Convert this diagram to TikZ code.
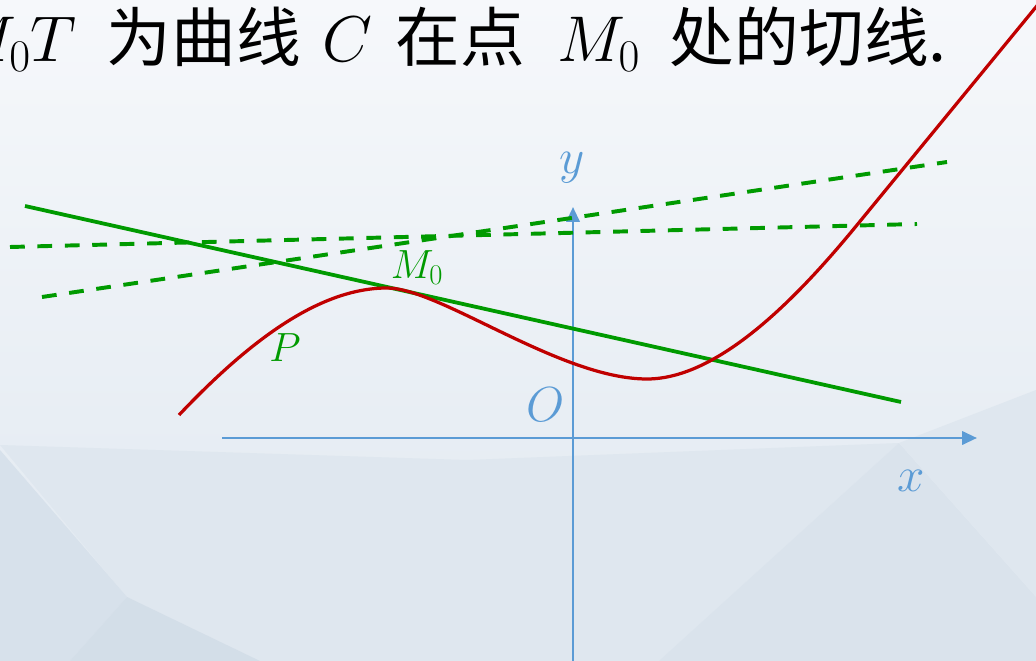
\RequirePackage{fix-cm}
\documentclass[tikz,border=0pt]{standalone}
\usepackage{fontspec}
\newfontfamily\cjk{Noto Sans CJK SC}
\usepackage{tikz}
\usetikzlibrary{arrows.meta}
\definecolor{qxBlue}{HTML}{5B9BD5}
\definecolor{qxGreen}{HTML}{009A00}
\definecolor{qxRed}{HTML}{C00000}
\definecolor{qxBgTop}{HTML}{F6F8FB}
\definecolor{qxBgBot}{HTML}{E0E8F0}
\definecolor{qxFacetA}{HTML}{D7E1EB}
\definecolor{qxFacetB}{HTML}{D3DEE8}
\definecolor{qxFacetC}{HTML}{DFE7EF}
\definecolor{qxFacetD}{HTML}{DAE3EC}

\begin{document}
\begin{tikzpicture}[x=0.025cm, y=-0.025cm,
  axis/.style={qxBlue, line width=1.9pt, -{Triangle[length=0.37cm,width=0.33cm]}},
  curve/.style={qxRed, line width=2.3pt},
  tangent/.style={qxGreen, line width=2.7pt},
  secant/.style={qxGreen, line width=2.8pt, dash pattern=on 10.5pt off 9pt},
  axlbl/.style={text=qxBlue, font=\fontsize{35}{40}\selectfont},
  ptlbl/.style={text=qxGreen, font=\fontsize{29}{34}\selectfont}]
  \useasboundingbox (0,0) rectangle (1036,661);
  \clip (0,0) rectangle (1036,661);
  % 背景
  \shade[top color=qxBgTop, bottom color=qxBgBot] (0,0) rectangle (1036,661);
  \fill[qxFacetC] (0,445) -- (467,460) -- (899,443) -- (659,661) -- (260,661) -- (127,597) -- cycle;
  \fill[qxFacetA] (0,450) -- (127,597) -- (70,661) -- (0,661) -- cycle;
  \fill[qxFacetB] (127,597) -- (260,661) -- (70,661) -- cycle;
  \fill[qxFacetD] (899,443) -- (1036,597) -- (1036,661) -- (659,661) -- cycle;
  \fill[qxFacetC] (899,443) -- (1036,390) -- (1036,597) -- cycle;
  % 标题
  \node[font=\cjk\fontsize{46}{54}\selectfont, anchor=base east, inner sep=0pt] (title) at (947,62)
    {$M_0T$\hspace{0.75cm}为曲线\hspace{0.55cm}$C$\hspace{0.575cm}在点\hspace{0.8cm}$M_0$\hspace{0.75cm}处的切线.};
  % 坐标轴
  \coordinate (xa) at (222,438);
  \coordinate (xb) at (977,438);
  \coordinate (ya) at (573,661);
  \coordinate (yb) at (573,207);
  \draw[axis] (xa) -- (xb);
  \draw[axis] (ya) -- (yb);
  \node[axlbl] (ylab) at (572,168) {$y$};
  \node[axlbl] (olab) at (546,405) {$O$};
  \node[axlbl] (xlab) at (911,481) {$x$};
  % 割线
  \coordinate (s1a) at (10,247);
  \coordinate (s1b) at (917,224);
  \coordinate (s2a) at (42,297);
  \coordinate (s2b) at (947,162);
  \draw[secant] (s1a) -- (s1b);
  \draw[secant] (s2a) -- (s2b);
  % 切线
  \coordinate (ta) at (25,206);
  \coordinate (tb) at (901,402);
  \draw[tangent] (ta) -- (tb);
  % 曲线 C
  \coordinate (c0) at (179,415);
  \coordinate (cmax) at (387,288);
  \coordinate (cmin) at (647,379);
  \coordinate (c3) at (857,225);
  \coordinate (c4) at (1045,-4);
  \draw[curve] (c0) .. controls (250,340) and (320,288) .. (cmax)
    .. controls (440,288) and (560,379) .. (cmin)
    .. controls (720,379) and (800,294.5) .. (c3) -- (c4);
  % 点
  \node[ptlbl] (m0) at (417,268) {$M_0$};
  \node[ptlbl] (p) at (285,348) {$P$};
\end{tikzpicture}
\end{document}
